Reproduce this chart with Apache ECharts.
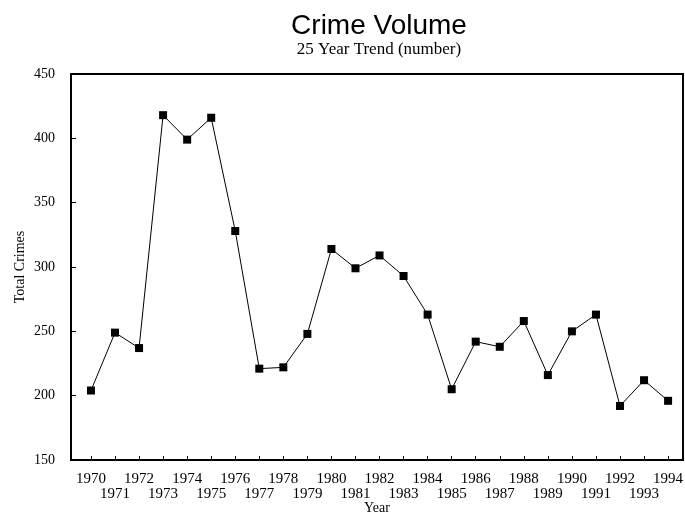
<!DOCTYPE html>
<html><head><meta charset="utf-8">
<script src="https://cdn.jsdelivr.net/npm/echarts@6/dist/echarts.min.js"></script>
<style>html,body{margin:0;padding:0;background:#fff}#c{width:685px;height:514px}</style>
</head><body><div id="c"></div>
<script>
const years = [1970,1971,1972,1973,1974,1975,1976,1977,1978,1979,1980,1981,1982,1983,1984,1985,1986,1987,1988,1989,1990,1991,1992,1993,1994];
const totalCrimes = [204,249,237,418,399,416,328,221,222,248,314,299,309,293,263,205,242,238,258,216,250,263,192,212,196];
const yTicks = [150,200,250,300,350,400,450];
const evenYears = years.filter(y => y % 2 === 0);
const oddYears = years.filter(y => y % 2 === 1);

const chart = echarts.init(document.getElementById('c'));
const serif = 'Liberation Serif';
const xMin = 1969.17, xMax = 1994.62;
const labelBase = {color: '#000', fontFamily: serif, fontSize: 15, hideOverlap: false, showMinLabel: true, showMaxLabel: true,
  formatter: v => String(Math.round(v))};
chart.setOption({
  animation: false,
  backgroundColor: '#fff',
  title: [
    {text: 'Crime Volume', left: 374, top: 7, textAlign: 'center',
     textStyle: {fontFamily: 'Liberation Sans', fontSize: 28, fontWeight: 'normal', color: '#000'}},
    {text: '25 Year Trend (number)', left: 374, top: 36, textAlign: 'center',
     textStyle: {fontFamily: serif, fontSize: 17, fontWeight: 'normal', color: '#000'}}
  ],
  grid: {left: 71, right: 2, top: 74, bottom: 54, containLabel: false, outerBoundsMode: 'none',
    show: true, borderColor: '#000', borderWidth: 2, backgroundColor: 'transparent'},
  xAxis: [{
    type: 'value', min: xMin, max: xMax, position: 'bottom',
    name: 'Year', nameLocation: 'middle', nameGap: 41, nameMoveOverlap: false,
    nameTextStyle: {fontFamily: serif, fontSize: 14, color: '#000'},
    axisLine: {show: true, lineStyle: {color: '#000', width: 2}},
    axisTick: {show: true, inside: true, length: 4, customValues: years, lineStyle: {color: '#000', width: 1}},
    axisLabel: Object.assign({customValues: evenYears, margin: 12}, labelBase),
    splitLine: {show: false}
  }, {
    type: 'value', min: xMin, max: xMax, position: 'bottom', offset: 0,
    axisLine: {show: false}, axisTick: {show: false},
    axisLabel: Object.assign({customValues: oddYears, margin: 27}, labelBase),
    splitLine: {show: false}
  }],
  yAxis: {
    type: 'value', min: 150, max: 450, interval: 50,
    name: 'Total Crimes', nameLocation: 'middle', nameGap: 44, nameRotate: 90, nameMoveOverlap: false,
    nameTextStyle: {fontFamily: serif, fontSize: 14, color: '#000'},
    axisLine: {show: true, lineStyle: {color: '#000', width: 2}},
    axisTick: {show: true, inside: true, length: 5, lineStyle: {color: '#000', width: 1}},
    axisLabel: {color: '#000', fontFamily: serif, fontSize: 14, margin: 16,
      hideOverlap: false, showMinLabel: true, showMaxLabel: true,
      customValues: yTicks},
    splitLine: {show: false}
  },
  series: [{
    type: 'line', xAxisIndex: 0,
    data: years.map((y, i) => [y, totalCrimes[i]]),
    symbol: 'rect', symbolSize: 8,
    itemStyle: {color: '#000'},
    lineStyle: {color: '#000', width: 1}
  }]
});
</script></body></html>
